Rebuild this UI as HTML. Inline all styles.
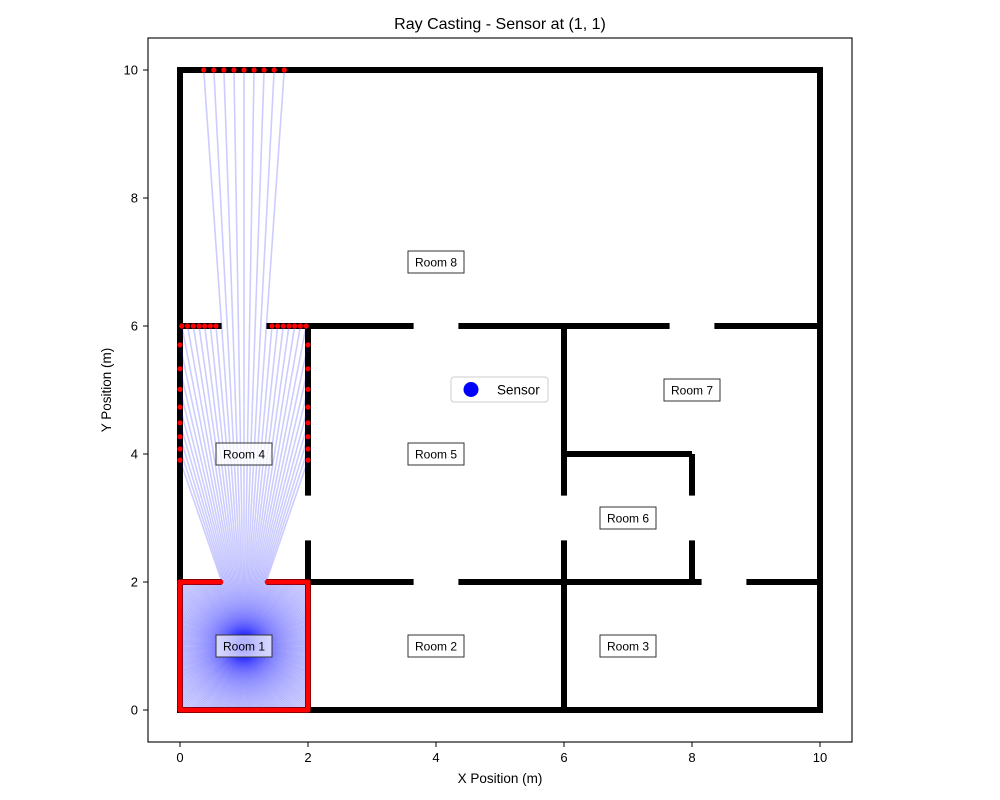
<!DOCTYPE html>
<html><head><meta charset="utf-8">
<style>
html,body{margin:0;padding:0;background:#fff;}
svg{display:block;font-family:"Liberation Sans","DejaVu Sans",sans-serif;}
</style></head>
<body>
<svg id="chart" width="1000" height="800" viewBox="0 0 1000 800" xmlns="http://www.w3.org/2000/svg">
<rect x="0" y="0" width="1000" height="800" fill="#fff"/>
<text x="500" y="29" font-size="16" text-anchor="middle" fill="#000">Ray Casting - Sensor at (1, 1)</text>
<g id="plot"></g>
<rect x="148" y="38" width="704" height="704" fill="none" stroke="#000" stroke-width="1.1"/>
<g id="ticks"></g>
<text x="500" y="783" font-size="13.5" text-anchor="middle">X Position (m)</text>
<text transform="translate(111,390) rotate(-90)" font-size="13.5" text-anchor="middle">Y Position (m)</text>
<g>
<rect x="451" y="377" width="97" height="25" rx="3" fill="#fff" fill-opacity="0.8" stroke="#ccc" stroke-width="1"/>
<circle cx="471" cy="389.5" r="7.5" fill="#0000ff"/>
<text x="497" y="394.5" font-size="13.5">Sensor</text>
</g>
</svg>
<script>
// ---- data ----
const sensorPos = [1, 1];
const rayCount = 360;
// walls: [x1, y1, x2, y2]
const wallsX1 = [0, 10, 0, 0,   0,    1.35, 4.35, 8.35, 0,    1.35, 4.35, 8.85, 2, 2,    2,    6, 6,    8, 8,    6];
const wallsY1 = [0, 0,  0, 10,  6,    6,    6,    6,    2,    2,    2,    2,    0, 2,    3.35, 0, 3.35, 2, 3.35, 4];
const wallsX2 = [0, 10, 10, 10, 0.65, 3.65, 7.65, 10,   0.65, 3.65, 8.15, 10,   2, 2,    2,    6, 6,    8, 8,    8];
const wallsY2 = [10,10, 0, 10,  6,    6,    6,    6,    2,    2,    2,    2,    2, 2.65, 6,    2.65, 6, 2.65, 4,   4];
const roomNames = ["Room 1","Room 2","Room 3","Room 4","Room 5","Room 6","Room 7","Room 8"];
const roomX = [1, 4, 7, 1, 4, 7, 8, 4];
const roomY = [1, 1, 1, 4, 4, 3, 5, 7];
const xTicks = [0, 2, 4, 6, 8, 10];
const yTicks = [0, 2, 4, 6, 8, 10];

// ---- axes ----
const sx = v => 180 + v * 64;
const sy = v => 710 - v * 64;
const NS = "http://www.w3.org/2000/svg";
const plot = document.getElementById('plot');
function mk(tag, attrs, parent) {
  const e = document.createElementNS(NS, tag);
  for (const k in attrs) e.setAttribute(k, attrs[k]);
  parent.appendChild(e);
  return e;
}
// walls
const wg = mk('g', {}, plot);


for (let i = 0; i < wallsX1.length; i++) {
  const cap = i < 4 ? 'square' : 'butt';
  const l = mk('line', {x1: sx(wallsX1[i]), y1: sy(wallsY1[i]), x2: sx(wallsX2[i]), y2: sy(wallsY2[i]), stroke: '#000', 'stroke-width': 6, 'stroke-linecap': cap}, wg);
  
  
}
// ray casting
const hits = [];
for (let k = 0; k < rayCount; k++) {
  const a = k * 2 * Math.PI / rayCount;
  const dx = Math.cos(a), dy = Math.sin(a);
  let best = Infinity;
  for (let i = 0; i < wallsX1.length; i++) {
    const ex = wallsX2[i] - wallsX1[i], ey = wallsY2[i] - wallsY1[i];
    const den = dx * ey - dy * ex;
    if (Math.abs(den) < 1e-12) continue;
    const wx = wallsX1[i] - sensorPos[0], wy = wallsY1[i] - sensorPos[1];
    const t = (wx * ey - wy * ex) / den;
    const u = (wx * dy - wy * dx) / den;
    if (t > 1e-9 && u >= 0 && u <= 1 && t < best) best = t;
  }
  if (best < Infinity) hits.push([sensorPos[0] + dx * best, sensorPos[1] + dy * best]);
}
const rg = mk('g', {}, plot);


hits.forEach(h => {
  const l = mk('line', {x1: sx(sensorPos[0]), y1: sy(sensorPos[1]), x2: sx(h[0]), y2: sy(h[1]), stroke: '#0000ff', 'stroke-opacity': 0.2, 'stroke-width': 1.6}, rg);
  
  
});
const dg = mk('g', {}, plot);


hits.forEach(h => {
  const c = mk('circle', {cx: sx(h[0]), cy: sy(h[1]), r: 2.6, fill: '#ff0000'}, dg);
  
  
});
// sensor
const sc = mk('circle', {cx: sx(sensorPos[0]), cy: sy(sensorPos[1]), r: 7.5, fill: '#0000ff'}, plot);


// room labels
roomNames.forEach((n, i) => {
  const g = mk('g', {}, plot);
  
  
  mk('rect', {x: sx(roomX[i]) - 28, y: sy(roomY[i]) - 11, width: 56, height: 22, fill: '#fff', 'fill-opacity': 0.7, stroke: '#333', 'stroke-width': 1}, g);
  const t = mk('text', {x: sx(roomX[i]), y: sy(roomY[i]) + 4.3, 'font-size': 12, 'text-anchor': 'middle', fill: '#000'}, g);
  t.textContent = n;
});
// ticks
const tg = document.getElementById('ticks');
xTicks.forEach(v => {
  const l = mk('line', {x1: sx(v), y1: 742, x2: sx(v), y2: 747, stroke: '#000', 'stroke-width': 1}, tg);
  
  
  const t = mk('text', {x: sx(v), y: 762, 'font-size': 13, 'text-anchor': 'middle'}, tg);
  
  
  t.textContent = v;
});
yTicks.forEach(v => {
  const l = mk('line', {x1: 143, y1: sy(v), x2: 148, y2: sy(v), stroke: '#000', 'stroke-width': 1}, tg);
  
  
  const t = mk('text', {x: 138, y: sy(v) + 4.5, 'font-size': 13, 'text-anchor': 'end'}, tg);
  
  
  t.textContent = v;
});
</script>
</body></html>
